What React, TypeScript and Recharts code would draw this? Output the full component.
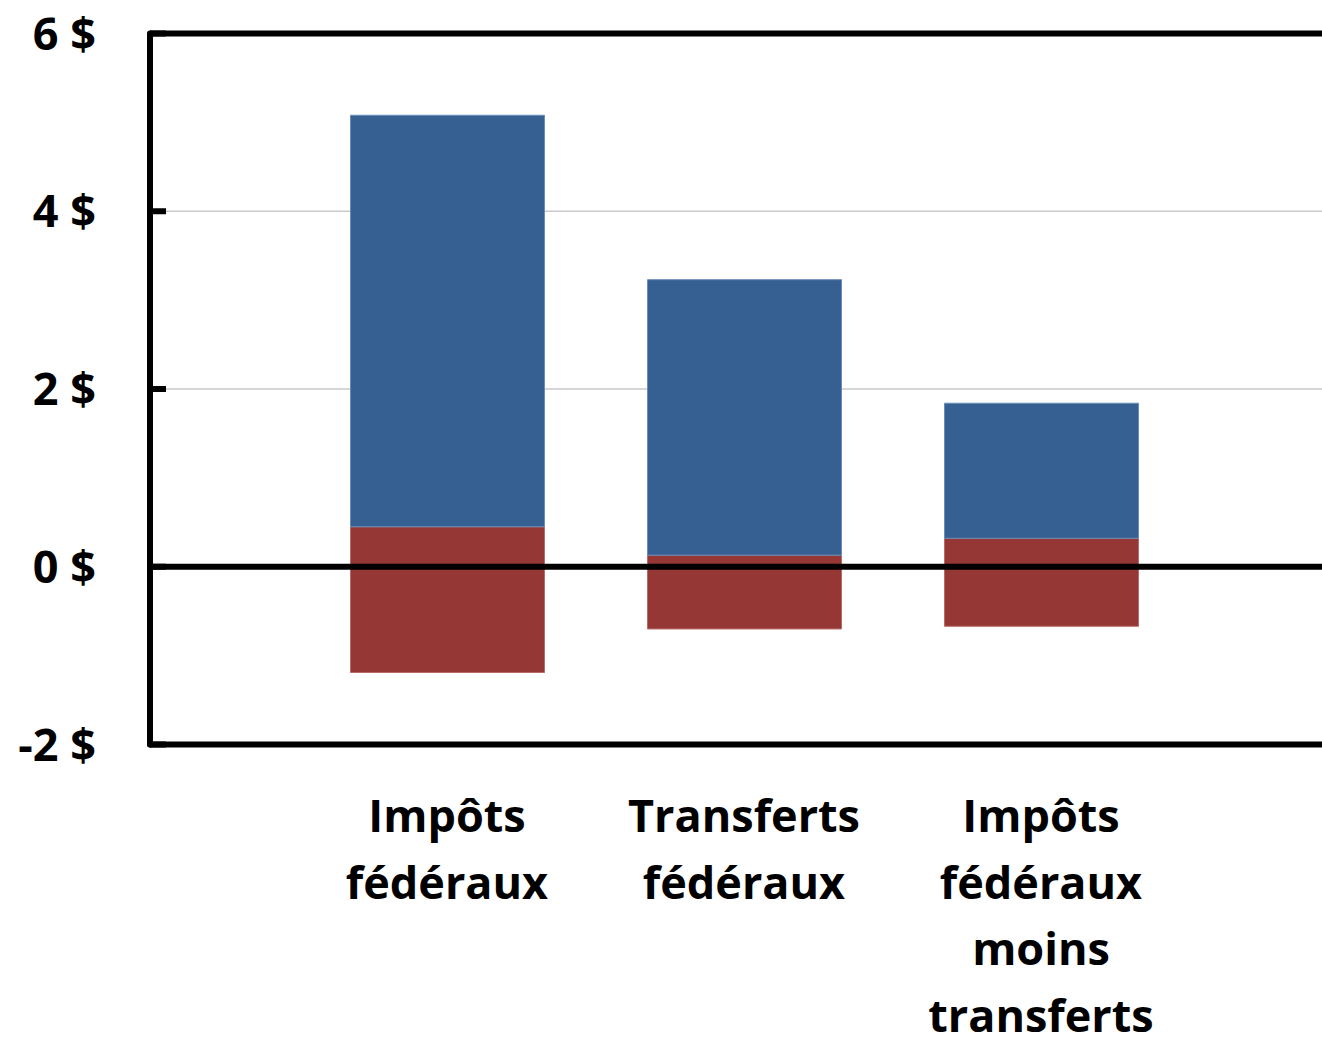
import React from "react";
import { BarChart, Bar, XAxis, YAxis, CartesianGrid, ReferenceLine } from "recharts";

const categories = ["Impôts fédéraux", "Transferts fédéraux", "Impôts fédéraux moins transferts"];
const categoryLines = [
  ["Impôts", "fédéraux"],
  ["Transferts", "fédéraux"],
  ["Impôts", "fédéraux", "moins", "transferts"],
];
const redAboveZero = [0.45, 0.13, 0.32];
const blueSegment = [4.63, 3.1, 1.52];
const redBelowZero = [-1.19, -0.7, -0.67];
const yTicks = [-2, 0, 2, 4, 6];
const yTickLabels = ["-2 $", "0 $", "2 $", "4 $", "6 $"];

const data = categories.map((c, i) => ({
  name: c,
  redPos: redAboveZero[i],
  blue: blueSegment[i],
  redNeg: redBelowZero[i],
}));

const FONT = "'Open Sans', sans-serif";

const YTick = (props: any) => {
  const { x, y, payload } = props;
  const idx = yTicks.indexOf(payload.value);
  return (
    <g>
      <line x1={x} x2={x + 16} y1={y} y2={y} stroke="#000" strokeWidth={6} />
      <text
        x={x - 54}
        y={y + 16}
        textAnchor="end"
        fontFamily={FONT}
        fontWeight={700}
        fontSize={45}
        fill="#000"
      >
        {yTickLabels[idx]}
      </text>
    </g>
  );
};

const XTick = (props: any) => {
  const { x, y, payload } = props;
  const idx = categories.indexOf(payload.value);
  const lines = categoryLines[idx] || [];
  return (
    <text textAnchor="middle" fontFamily={FONT} fontWeight={700} fontSize={45} fill="#000">
      {lines.map((l, i) => (
        <tspan key={i} x={x} y={y + 87.5 + i * 66.7}>
          {l}
        </tspan>
      ))}
    </text>
  );
};

export default function App() {
  return (
    <div
      style={{
        position: "absolute",
        left: 0,
        top: 0,
        width: 1322,
        height: 1041,
        overflow: "hidden",
        background: "#fff",
      }}
    >
      <BarChart
        width={1340}
        height={1041}
        data={data}
        stackOffset="sign"
        margin={{ top: 33.5, right: 2, bottom: 0, left: 0 }}
      >
        <CartesianGrid vertical={false} stroke="#c9c9c9" strokeWidth={1.5} />
        <XAxis
          dataKey="name"
          type="category"
          height={296.5}
          padding={{ left: 148.5, right: 148.5 }}
          axisLine={{ stroke: "#000", strokeWidth: 6, strokeLinecap: "round" }}
          tickLine={false}
          tickSize={0}
          tickMargin={0}
          interval={0}
          tick={<XTick />}
        />
        <YAxis
          type="number"
          domain={[-2, 6]}
          ticks={yTicks}
          width={150}
          axisLine={{ stroke: "#000", strokeWidth: 6, strokeLinecap: "round" }}
          tickLine={false}
          tickSize={0}
          tickMargin={0}
          interval={0}
          tick={<YTick />}
        />
        <Bar
          dataKey="redPos"
          stackId="s"
          fill="#953735"
          stroke="#b86a68"
          strokeWidth={1}
          barSize={194}
          isAnimationActive={false}
        />
        <Bar
          dataKey="blue"
          stackId="s"
          fill="#366092"
          stroke="#6a8cb8"
          strokeWidth={1}
          barSize={194}
          isAnimationActive={false}
        />
        <Bar
          dataKey="redNeg"
          stackId="s"
          fill="#953735"
          stroke="#b86a68"
          strokeWidth={1}
          barSize={194}
          isAnimationActive={false}
        />
        <ReferenceLine y={0} stroke="#000" strokeWidth={6} />
        <ReferenceLine y={6} stroke="#000" strokeWidth={6} />
      </BarChart>
    </div>
  );
}
